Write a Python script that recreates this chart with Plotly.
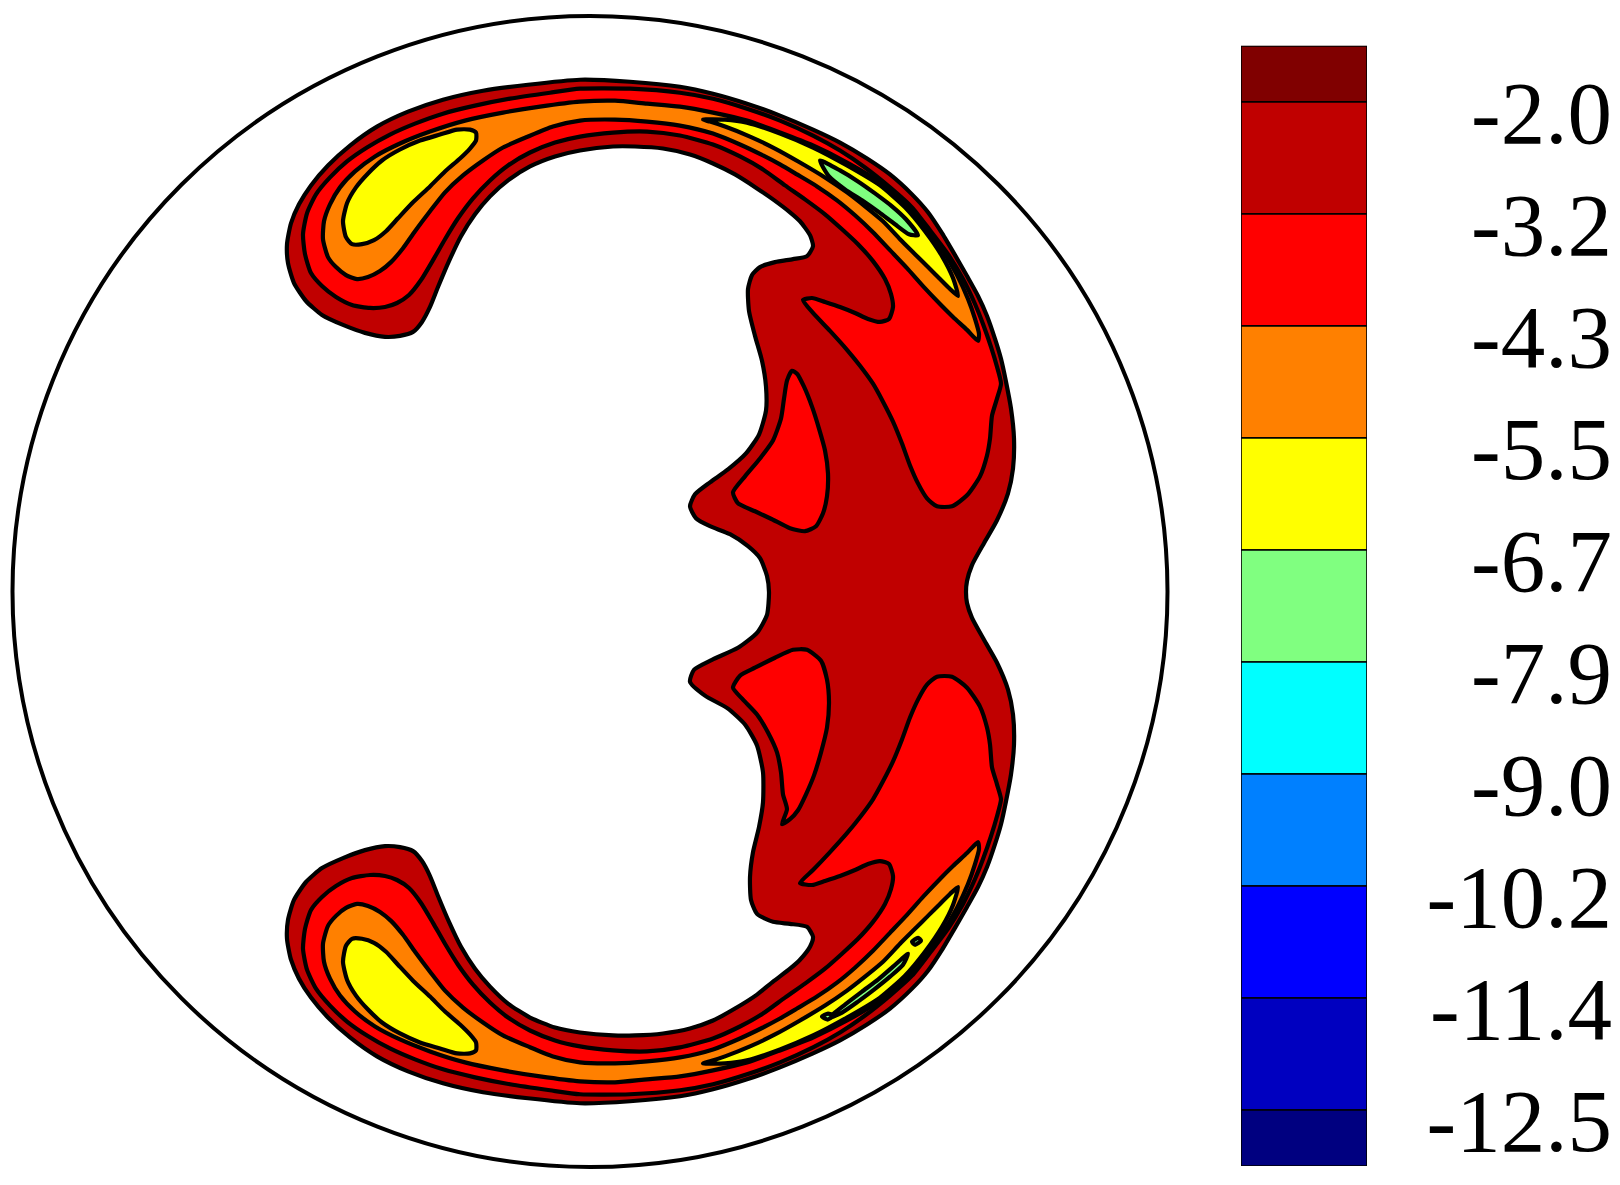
import plotly.graph_objects as go

# ---------------- data ----------------
LEVEL_LABELS = ["-2.0", "-3.2", "-4.3", "-5.5", "-6.7", "-7.9", "-9.0", "-10.2", "-11.4", "-12.5"]
BAND_COLORS = ["#800000", "#C00000", "#FF0000", "#FF8000", "#FFFF00", "#80FF80",
               "#00FFFF", "#0080FF", "#0000FF", "#0000C0", "#000080"]

DOMAIN_CENTER = (590, 593.5)
DOMAIN_RADIUS = 577.5

# contour band -2.0 .. -3.2 (whole coloured region)
BAND1_REGION = [
    (413,333),(400,337),(385,338),(365,334),(343,326),(322,316),(306,302),(294,284),(288,264),(287,245),
    (291,224),(299,205),(311,186),(328,166),(350,146),(377,127),(408,112),(443,100),(483,91),(528,85),
    (580,80),(630,82),(680,87),(713,94),(747,104),(780,116),(813,130),(840,143),(867,159),(890,175),
    (912,195),(928,213),(942,234),(955,256),(967,277),(978,297),(987,317),(995,340),(1001,360),(1006,383),
    (1011,410),(1014,440),(1013,470),(1008,495),(997,522),(984,545),(972,567),(967,583),(966,594),
    (967,605),(972,620),(984,642),(997,665),(1008,692),(1013,717),(1014,747),(1011,777),(1006,804),(1001,827),
    (995,847),(987,870),(978,890),(967,910),(955,931),(942,953),(928,974),(912,992),(890,1012),(867,1028),
    (840,1044),(813,1057),(780,1071),(747,1083),(713,1093),(680,1100),(630,1105),(580,1107),(528,1102),(483,1096),
    (443,1087),(408,1075),(377,1060),(350,1041),(328,1021),(311,1001),(299,982),(291,963),(287,942),(288,923),
    (294,903),(306,885),(322,871),(343,861),(365,853),(385,849),(400,850),(413,854),
    (422,864),(430,879),(438,899),(449,925),(461,950),(475,972),(490,990),(508,1007),(530,1021),(555,1031),
    (580,1036),(613,1039),(635,1039),(663,1037),(690,1032),(713,1024),(735,1012),(757,998),(773,985),(790,972),
    (800,963),(810,950),(813,940),(807,930),(790,927),(773,925),(757,917),(751,903),(750,880),(753,855),
    (759,830),(763,805),(763,775),(757,748),(745,727),(728,711),(705,698),(690,684),(694,672),(712,662),
    (738,650),(757,635),(767,617),(769,594),
    (767,578),(760,560),(748,548),(730,536),(710,528),(696,520),(690,508),(695,496),(710,484),(728,471),
    (746,455),(759,436),(766,412),(766,388),(762,362),(755,337),(749,312),(748,290),(752,276),(760,268),
    (775,263),(793,260),(807,257),(813,247),(810,236),(800,222),(790,213),(773,200),(757,189),(735,175),
    (713,164),(690,155),(663,149),(635,147),(613,147),(580,151),(555,157),(530,167),(508,181),(490,197),
    (475,215),(461,237),(449,262),(438,288),(430,308),(422,323),
]

# contour band -3.2 .. -4.3
BAND2_TOP = [
    (336,298),(322,287),(311,274),(305,255),(303,235),(307,214),(316,195),(330,178),(347,162),(367,148),
    (390,135),(415,124),(443,114),(475,106),(510,99),(550,93),(580,89),(630,89),(680,93),(713,99),
    (747,109),(780,121),(813,136),(840,151),(865,168),(890,188),(912,208),(930,231),(948,255),(963,280),
    (975,305),(983,325),(991,348),(997,368),(1001,385),(997,400),(992,417),(990,440),(987,457),(980,478),
    (967,497),(952,508),(937,508),(927,500),(918,485),(910,467),(902,445),(893,423),(883,403),(873,385),
    (860,367),(847,351),(830,332),(813,314),(803,301),(812,299),(825,303),(840,308),(855,314),(868,320),
    (880,323),(889,320),(893,308),(891,295),(885,280),(873,262),(858,245),(842,230),(825,215),(805,200),
    (785,186),(763,170),(740,157),(713,145),(680,136),(647,132),(613,133),(580,137),(555,143),(530,153),
    (508,166),(490,181),(473,199),(458,219),(445,240),(433,261),(421,281),(409,296),(397,304),(385,308),
    (370,309),(352,306),
]
BAND2_BOTTOM = [
    (336,889),(322,900),(311,913),(305,932),(303,952),(307,973),(316,992),(330,1009),(347,1025),(367,1039),
    (390,1052),(415,1063),(443,1073),(475,1081),(510,1088),(550,1094),(580,1098),(630,1098),(680,1094),(713,1088),
    (747,1078),(780,1066),(813,1051),(840,1036),(865,1019),(890,999),(912,979),(930,956),(948,932),(963,907),
    (975,882),(983,862),(991,839),(997,819),(1001,802),(997,787),(992,770),(990,747),(987,730),(980,709),
    (967,690),(952,679),(937,679),(927,687),(918,702),(910,720),(902,742),(893,764),(883,784),(873,802),
    (860,820),(847,836),(830,855),(813,873),(800,886),(812,888),(825,884),(840,879),(855,873),(868,867),
    (880,864),(889,867),(893,879),(891,892),(885,907),(873,925),(858,942),(842,957),(825,972),(805,987),
    (785,1001),(763,1017),(740,1030),(713,1042),(680,1051),(647,1055),(613,1054),(580,1050),(555,1044),(530,1034),
    (508,1021),(490,1006),(473,988),(458,968),(445,947),(433,926),(421,906),(409,891),(397,883),(385,879),
    (370,878),(352,881),
]
BAND2_ISLAND_TOP = [
    (792,372),(787,382),(784,400),(781,420),(773,442),(760,460),(745,478),(733,494),(738,505),(755,513),
    (772,521),(790,530),(805,533),(816,528),(823,515),(827,498),(828,475),(825,452),(819,430),(812,408),
    (804,388),(797,375),
]
BAND2_ISLAND_BOTTOM = [
    (807,652),(793,652),(775,660),(755,670),(740,678),(733,690),(743,702),(757,717),(768,735),(777,755),
    (781,775),(783,797),(787,812),(782,827),(790,822),(798,813),(806,797),(814,778),(821,755),(827,730),
    (829,705),(827,682),(821,663),
]

# contour band -4.3 .. -5.5
BAND3_TOP = [
    (328,258),(323,240),(324,222),(330,205),(340,188),(355,172),(375,157),(400,144),(430,132),(465,121),
    (503,113),(540,107),(580,102),(615,101),(647,104),(680,107),(713,113),(747,121),(780,133),(813,146),
    (847,163),(880,183),(905,205),(925,228),(943,252),(957,276),(968,300),(975,320),(979,335),(978,342),
    (967,331),(953,318),(940,305),(923,287),(907,269),(890,251),(873,233),(855,216),(837,201),(817,187),
    (797,175),(780,165),(763,156),(740,145),(713,134),(680,126),(647,122),(615,120),(580,121),(553,127),
    (528,137),(503,148),(483,161),(463,176),(445,193),(430,212),(415,232),(403,249),(391,263),(380,272),
    (368,278),(357,280),(346,276),(336,268),
]
BAND3_BOTTOM = [
    (328,929),(323,947),(324,965),(330,982),(340,999),(355,1015),(375,1030),(400,1043),(430,1055),(465,1066),
    (503,1074),(540,1080),(580,1085),(615,1086),(647,1083),(680,1080),(713,1074),(747,1066),(780,1054),(813,1041),
    (847,1024),(880,1004),(905,982),(925,959),(943,935),(957,911),(968,887),(975,867),(979,852),(978,845),
    (967,856),(953,869),(940,882),(923,900),(907,918),(890,936),(873,954),(855,971),(837,986),(817,1000),
    (797,1012),(780,1022),(763,1031),(740,1042),(713,1053),(680,1061),(647,1065),(615,1067),(580,1066),(553,1060),
    (528,1050),(503,1039),(483,1026),(463,1011),(445,994),(430,975),(415,955),(403,938),(391,924),(380,915),
    (368,909),(357,907),(346,911),(336,919),
]

# contour band -5.5 .. -6.7
BAND4_ARM_TOP = [
    (352,245),(346,238),(343,222),(347,204),(356,188),(368,174),(382,161),(400,150),(420,141),(440,135),
    (457,130),(470,130),(476,133),(476,141),(470,149),(460,159),(445,172),(430,187),(413,203),(398,219),
    (386,232),(374,241),(362,245),
]
BAND4_ARM_BOTTOM = [
    (352,942),(346,949),(343,965),(347,983),(356,999),(368,1013),(382,1026),(400,1037),(420,1046),(440,1052),
    (457,1057),(470,1057),(476,1054),(476,1046),(470,1038),(460,1028),(445,1015),(430,1000),(413,984),(398,968),
    (386,955),(374,946),(362,942),
]
BAND4_WALL_TOP = [
    (703,120),(725,120),(747,123),(780,134),(813,148),(847,166),(880,186),(905,208),(925,232),(942,257),
    (953,279),(958,297),(950,290),(940,280),(928,268),(915,255),(900,240),(883,222),(865,207),(847,193),
    (825,178),(800,163),(775,149),(750,137),(725,127),(710,122),
]
BAND4_WALL_BOTTOM = [
    (703,1067),(725,1067),(747,1064),(780,1053),(813,1039),(847,1021),(880,1001),(905,979),(925,955),(942,930),
    (953,908),(958,890),(950,897),(940,907),(928,919),(915,932),(900,947),(883,965),(865,980),(847,994),
    (825,1009),(800,1024),(775,1038),(750,1050),(725,1060),(710,1065),
]

# contour band -6.7 .. -7.9
BAND5_TOP = [
    (820,161),(840,171),(858,182),(875,194),(892,207),(906,220),(918,236),(909,235),(895,225),(879,213),
    (862,201),(845,190),(829,177),
]
BAND5_BOTTOM = [
    (828,1022),(845,1008),(862,995),(878,983),(893,970),(908,957),(903,968),(890,980),(874,993),(858,1005),
    (842,1016),
]
# tiny closed -6.7 contours inside the lower yellow band
BAND5_SPECK_A = [(822,1020),(828,1017),(833,1019),(828,1023)]
BAND5_SPECK_B = [(912,945),(918,941),(921,944),(915,948)]

REGIONS = [
    (1, BAND1_REGION),
    (2, BAND2_TOP), (2, BAND2_BOTTOM), (2, BAND2_ISLAND_TOP), (2, BAND2_ISLAND_BOTTOM),
    (3, BAND3_TOP), (3, BAND3_BOTTOM),
    (4, BAND4_ARM_TOP), (4, BAND4_ARM_BOTTOM), (4, BAND4_WALL_TOP), (4, BAND4_WALL_BOTTOM),
    (5, BAND5_TOP), (5, BAND5_BOTTOM), (5, BAND5_SPECK_A), (5, BAND5_SPECK_B),
]

# page is W x H; the html body keeps an 8 px margin around the figure
W, H = 1620, 1185
PAD = 8
FW, FH = W - 2 * PAD, H - 2 * PAD
LABEL_FONT = "Liberation Serif"


def px_x(v):
    return min(max((v - PAD) / FW, 0), 1)


def px_y(v):
    return min(max(1 - (v - PAD) / FH, 0), 1)


fig = go.Figure()

for band, pts in REGIONS:
    xs = [p[0] for p in pts] + [pts[0][0]]
    ys = [p[1] for p in pts] + [pts[0][1]]
    fig.add_trace(go.Scatter(
        x=xs, y=ys, mode="lines", fill="toself", fillcolor=BAND_COLORS[band],
        line=dict(color="black", width=4.2, shape="spline", smoothing=0.6),
        hoverinfo="skip", showlegend=False, xaxis="x", yaxis="y"))

# outer domain circle
cx, cy = DOMAIN_CENTER
fig.add_shape(type="circle", xref="x", yref="y",
              x0=cx - DOMAIN_RADIUS, x1=cx + DOMAIN_RADIUS,
              y0=cy - DOMAIN_RADIUS, y1=cy + DOMAIN_RADIUS,
              line=dict(color="black", width=4))

# colour legend: one block per band, end bands half height
n_levels = len(LEVEL_LABELS)
lower = [max(i - 1, -0.5) for i in range(len(BAND_COLORS))]
upper = [min(i, n_levels - 0.5) for i in range(len(BAND_COLORS))]
fig.add_trace(go.Bar(
    x=[0] * len(BAND_COLORS), base=lower, y=[u - l for u, l in zip(upper, lower)],
    width=1, marker=dict(color=BAND_COLORS, line=dict(color="black", width=1.6)),
    xaxis="x2", yaxis="y2", hoverinfo="skip", showlegend=False))
fig.add_trace(go.Scatter(x=[None], y=[None], xaxis="x2", yaxis="y3",
                         showlegend=False, hoverinfo="skip"))

fig.update_layout(
    width=FW, height=FH, margin=dict(l=0, r=0, t=0, b=0),
    paper_bgcolor="white", plot_bgcolor="white",
    xaxis=dict(range=[PAD, PAD + FW], domain=[0, 1], visible=False),
    yaxis=dict(range=[PAD + FH, PAD], domain=[0, 1], visible=False),
    xaxis2=dict(range=[-0.5, 0.5], domain=[px_x(1241), px_x(1367)], visible=False, anchor="y2"),
    yaxis2=dict(range=[n_levels - 0.5, -0.5], domain=[px_y(1170), px_y(46)],
                visible=False, anchor="x2"),
    yaxis3=dict(range=[n_levels - 0.5, -0.5], overlaying="y2", anchor="free",
                position=1.0, side="left", tickvals=list(range(n_levels)),
                ticktext=LEVEL_LABELS, showgrid=False, zeroline=False, showline=False,
                ticks="", ticklabelstandoff=0, ticklabelshift=-10,
                tickfont=dict(family=LABEL_FONT, size=89, color="black")),
    showlegend=False,
)

fig.write_html("out.html")
